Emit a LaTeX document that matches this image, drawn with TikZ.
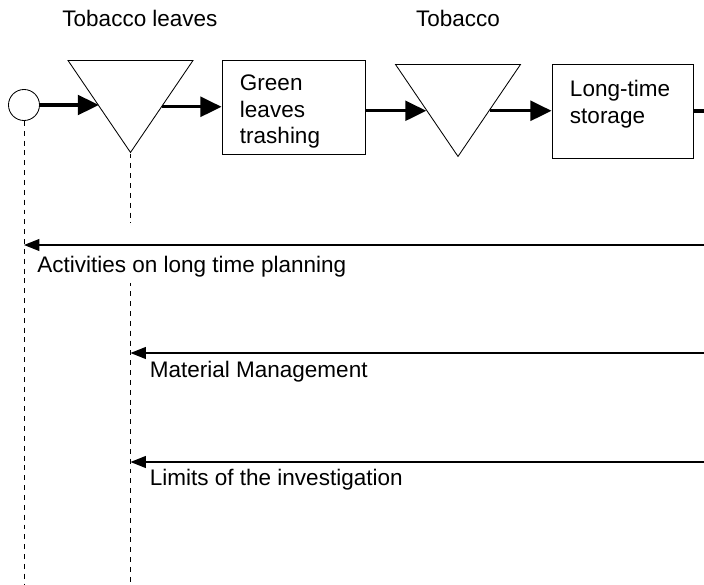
\documentclass[tikz,border=0pt]{standalone}
\usepackage{fontspec}
\setmainfont{Liberation Sans}
\usetikzlibrary{
	arrows.meta,
	positioning,
	shapes.geometric
}

\begin{document}
\begin{tikzpicture}[
  x=0.025cm, y=-0.025cm,
  every node/.style={font=\fontsize{16}{19}\selectfont},
  inicio/.style={circle, draw, line width=0.6pt, minimum size=0.775cm, inner sep=0pt},
  almacen/.style={isosceles triangle, isosceles triangle stretches,
    shape border rotate=270, draw, line width=0.6pt, anchor=north,
    minimum width=3.125cm, minimum height=2.3cm, inner sep=0pt},
  proceso/.style={rectangle, draw, line width=0.6pt, align=left,
    inner xsep=0.45cm, text width=#1, text height=17pt, minimum height=2.35cm},
  flecha/.style={-{Triangle[length=15pt, width=14pt]}, line width=2.4pt},
  limite/.style={-{Triangle[length=11pt, width=8.5pt]}, line width=0.9pt},
  guia/.style={dash pattern=on 3.5pt off 3.5pt, line width=0.6pt}
]
\useasboundingbox (0,0) rectangle (704,585);

% flujo superior
\node[inicio] (a) at (24,105) {};
\node[almacen] (b) at (130.5,60) {};
\node[proceso=2.675cm] (c) at (293.5,107.5) {Green\\leaves\\trashing};
\node[almacen] (d) at (458,64) {};
\node[proceso=2.625cm] (e) at (622.5,111.5) {Long-time\\storage\\\mbox{}};
\coordinate (salida) at (704,111);

\node[anchor=base] (hojas) at (140,26) {Tobacco leaves};
\node[anchor=base] (tabaco) at (458,26) {Tobacco};

\draw[flecha] (a) -- (a -| b.right side);
\draw[flecha] (b.left side) -- (b.left side -| c.west);
\draw[flecha] (c.east |- d.right side) -- (d.right side);
\draw[flecha] (d.left side) -- (d.left side -| e.west);
\draw[line width=2.4pt] (e.east |- salida) -- (salida);

% lineas guia
\coordinate (fondo) at (0,585);
\draw[guia] (a.south) -- (a |- fondo);
\draw[guia] (b.apex) -- (b.apex |- fondo);

% actividades
\node[anchor=base west, fill=white, inner sep=0pt, text height=35pt, text depth=8pt]
  (l1) at (37,272) {Activities on long time planning};
\node[anchor=base west] (l2) at (145,377) {Material Management};
\node[anchor=base west] (l3) at (145,485) {Limits of the investigation};
\coordinate (r1) at (704,245);
\coordinate (r2) at (704,353);
\coordinate (r3) at (704,462);
\draw[limite] (r1) -- (r1 -| a);
\draw[limite] (r2) -- (r2 -| b.apex);
\draw[limite] (r3) -- (r3 -| b.apex);
\end{tikzpicture}
\end{document}
